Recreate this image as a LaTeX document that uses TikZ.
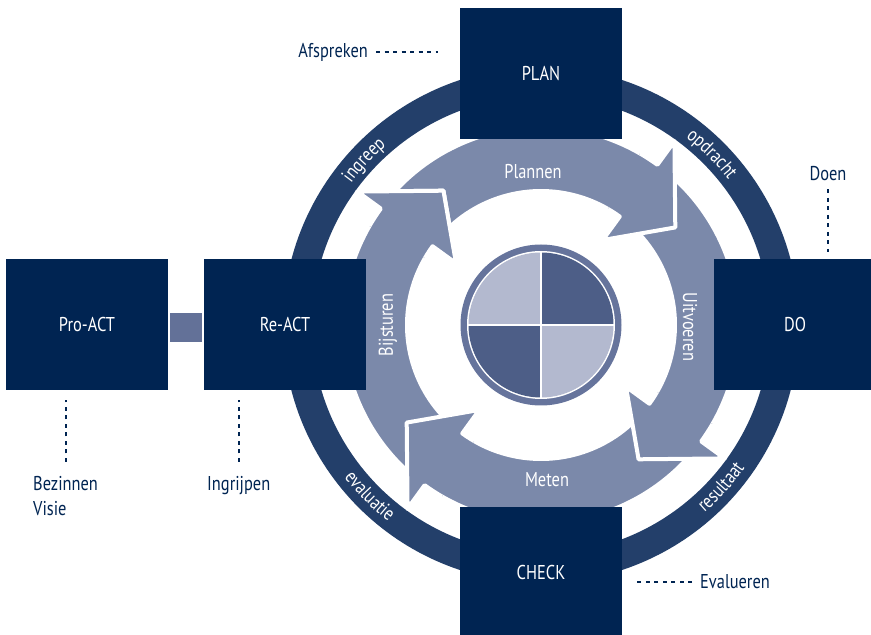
\documentclass[tikz,border=0pt]{standalone}
\usepackage{fontspec}
\setmainfont{PT Sans}[FakeStretch=0.82]
\usetikzlibrary{decorations.text}

\definecolor{boxnavy}{RGB}{0,36,82}
\definecolor{ringblue}{RGB}{35,63,106}
\definecolor{arrowblue}{RGB}{123,137,170}
\definecolor{linkblue}{RGB}{99,113,152}
\definecolor{piering}{RGB}{102,116,156}
\definecolor{piedark}{RGB}{77,94,135}
\definecolor{pielight}{RGB}{179,185,207}

\newcommand\diagfont{\fontsize{20}{24}\selectfont}
\newcommand\ringfont{\fontsize{19.5}{24}\selectfont\color{white}}

% one curved arrow of the cycle: tail, band, head (back angle #1)
\newcommand\cyclearrow[1]{%
  \pgfmathsetmacro\ta{#1+92}\pgfmathsetmacro\tp{#1-18}%
  \path[arrowpiece] (\ta:198) arc[start angle=\ta,end angle=#1,radius=198] -- (#1:227) -- (\tp:166)
  -- (#1:105) -- (#1:134) arc[start angle=#1,end angle=\ta,radius=134] -- cycle;}

\begin{document}
\begin{tikzpicture}[x=1pt,y=1pt,font=\diagfont,
  ringtext/.style={decorate,decoration={text along path,text align=center,
    text={|\ringfont|#1}}}]
 \tikzstyle{phasebox} = [fill=boxnavy,text=white,inner sep=0,minimum width=162pt,minimum height=131pt]
 \tikzstyle{arrowpiece} = [fill=arrowblue,draw=white,line width=4pt,line join=round]
 \tikzstyle{dotline} = [draw=boxnavy,line width=2pt,dash pattern=on 4pt off 4.5pt]
 \tikzstyle{sidelabel} = [text=boxnavy,inner sep=0]

 \useasboundingbox (0,0) rectangle (871,635);
 \clip (0,0) rectangle (871,635);

% Outer ring
 \draw[ringblue,line width=29pt] (541,310) circle[radius=243.5];

 \begin{scope}[shift={(541,310)}]
% Arrows
 \foreach \b in {54,-36,-126,-216} {\cyclearrow{\b}}
% Heads again, over the tail of the next arrow
 \foreach \b in {54,-36,-126,-216} {
  \pgfmathsetmacro\hs{\b+6}
  \pgfmathsetmacro\he{\b-30}
  \begin{scope}
   \clip (\hs:90) -- (\hs:240) arc[start angle=\hs,end angle=\he,radius=240]
     -- (\he:90) arc[start angle=\he,end angle=\hs,radius=90] -- cycle;
   \cyclearrow{\b}
  \end{scope}
 }

% Texts on the ring
 \path[ringtext=ingreep] (157:237) arc[start angle=157,end angle=117,radius=237];
 \path[ringtext=opdracht] (65:237) arc[start angle=65,end angle=25,radius=237];
 \path[ringtext=resultaat] (-67:249) arc[start angle=-67,end angle=-17,radius=249];
 \path[ringtext=evaluatie] (200:249) arc[start angle=200,end angle=250,radius=249];

% Quartered disc
 \fill[piering] (0,0) circle[radius=80.5];
 \fill[white] (0,0) circle[radius=74];
 \fill[pielight] (0,0) -- (90:72.5) arc[start angle=90,end angle=180,radius=72.5] -- cycle;
 \fill[piedark] (0,0) -- (0:72.5) arc[start angle=0,end angle=90,radius=72.5] -- cycle;
 \fill[piedark] (0,0) -- (180:72.5) arc[start angle=180,end angle=270,radius=72.5] -- cycle;
 \fill[pielight] (0,0) -- (270:72.5) arc[start angle=270,end angle=360,radius=72.5] -- cycle;
 \draw[white,line width=2.5pt] (-74,0) -- (74,0) (0,-74) -- (0,74);
 \end{scope}

% Arrow labels
 \node[text=white] (plannen) at (533,463) {Plannen};
 \node[text=white,rotate=-90] (uitvoeren) at (690,308) {Uitvoeren};
 \node[text=white] (meten) at (547,155) {Meten};
 \node[text=white,rotate=90] (bijsturen) at (388,310) {Bijsturen};

% Boxes
 \node[phasebox] (plan) at (541,561.5) {PLAN};
 \node[phasebox] (do) at (795,310) {DO};
 \node[phasebox] (check) at (541,62.5) {CHECK};
 \node[phasebox] (react) at (285,310) {Re-ACT};
 \node[phasebox] (proact) at (87,310) {Pro-ACT};
 \node[fill=linkblue,inner sep=0,minimum width=32pt,minimum height=29pt] (link) at (186,307.5) {};

% Side labels
 \node[sidelabel,anchor=east] (afspr) at (368,583) {Afspreken};
 \node[sidelabel] (doen) at (828,461) {Doen};
 \node[sidelabel,align=left,anchor=north west,font=\fontsize{20}{25}\selectfont] (bezinnen) at (33,159) {Bezinnen\\Visie};
 \node[sidelabel,anchor=north west] (ingrijpen) at (207,159) {Ingrijpen};
 \node[sidelabel,anchor=west] (evalueren) at (700,53) {Evalueren};

 \draw[dotline,shorten <=8pt,shorten >=22pt] (afspr.east) -- (plan.west |- afspr.east);
 \draw[dotline,shorten <=8pt,shorten >=7pt] (doen.south) -- (doen.south |- do.north);
 \draw[dotline,shorten <=14pt,shorten >=9pt] (bezinnen.north) -- (bezinnen.north |- proact.south);
 \draw[dotline,shorten <=14pt,shorten >=9pt] (ingrijpen.north) -- (ingrijpen.north |- react.south);
 \draw[dotline,shorten <=8pt,shorten >=11pt] (evalueren.west) -- (evalueren.west -| check.east);

\end{tikzpicture}
\end{document}
